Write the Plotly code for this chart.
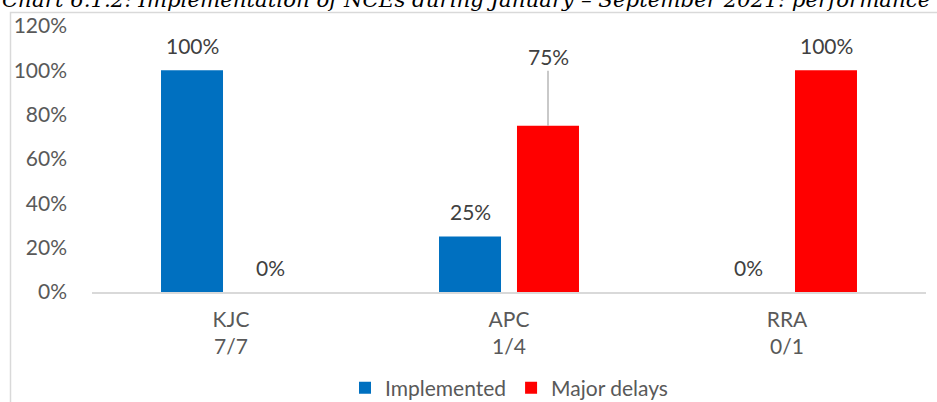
import plotly.graph_objects as go

categories = ["KJC", "APC", "RRA"]
ratios = ["7/7", "1/4", "0/1"]
implemented = [1.00, 0.25, 0.00]
major_delays = [0.00, 0.75, 1.00]
series_names = ["Implemented", "Major delays"]
colors = ["#0070C0", "#FF0000"]
title_text = "Chart 6.1.2: Implementation of NCEs during January \u2013 September 2021: performance"

x_labels = [f"{c}<br>{r}" for c, r in zip(categories, ratios)]

FONT = "Lato, 'Open Sans', sans-serif"
TXT = "#595959"
FS = 21

fig = go.Figure()
for name, vals, col in zip(series_names, [implemented, major_delays], colors):
    fig.add_trace(go.Bar(x=x_labels, y=vals, name=name, marker_color=col,
                         marker_line_width=0))

annotations = []
for shift, vals in zip([-39, 39], [implemented, major_delays]):
    for xl, v in zip(x_labels, vals):
        lbl = f"{v*100:.0f}%"
        if xl.startswith("APC") and shift > 0:
            annotations.append(dict(x=xl, y=v, xref="x", yref="y", text=lbl,
                                    showarrow=True, arrowhead=0, arrowwidth=1.2,
                                    arrowcolor="#A6A6A6", ax=0, ay=-69,
                                    xshift=shift, font=dict(size=FS, color="#404040", family=FONT)))
        else:
            annotations.append(dict(x=xl, y=v, xref="x", yref="y", text=lbl,
                                    showarrow=False, yshift=25, xshift=shift,
                                    yanchor="middle",
                                    font=dict(size=FS, color="#404040", family=FONT)))

annotations.append(dict(x=(0 - 92) / 834, y=(292 - 14) / 266, xref="paper", yref="paper",
                        text=title_text, showarrow=False, xanchor="left", yanchor="bottom",
                        font=dict(size=21.3, color="#000000", family="'DejaVu Serif', serif",
                                  style="italic")))

fig.update_layout(
    width=937, height=402,
    margin=dict(l=92, r=11, t=26, b=110),
    paper_bgcolor="white", plot_bgcolor="white",
    barmode="group", bargap=0.439, bargroupgap=0.205,
    font=dict(family=FONT, size=FS, color=TXT),
    showlegend=True,
    legend=dict(orientation="h", x=0.5, xanchor="center",
                yref="container", y=(402 - 388) / 402, yanchor="middle",
                font=dict(size=FS, color=TXT, family=FONT), itemwidth=30,
                traceorder="normal"),
    annotations=annotations,
    shapes=[dict(type="rect", xref="paper", yref="paper",
                 x0=(10.5 - 92) / 834, x1=(945 - 92) / 834,
                 y0=(292 - 410) / 266, y1=(292 - 12.5) / 266,
                 line=dict(color="#D9D9D9", width=1.5), layer="below")],
)
fig.update_yaxes(range=[0, 1.2], dtick=0.2, tickformat=".0%", showgrid=False,
                 zeroline=False, showline=False, ticklabelstandoff=24, automargin=False,
                 tickfont=dict(size=FS, color=TXT, family=FONT))
fig.update_xaxes(showline=True, linecolor="#D9D9D9", linewidth=1.5, showgrid=False,
                 ticks="", ticklabelstandoff=8, automargin=False,
                 tickfont=dict(size=FS, color=TXT, family=FONT))

fig.write_html("out.html", config={"displayModeBar": False},
               post_script="document.body.style.margin='0';")
